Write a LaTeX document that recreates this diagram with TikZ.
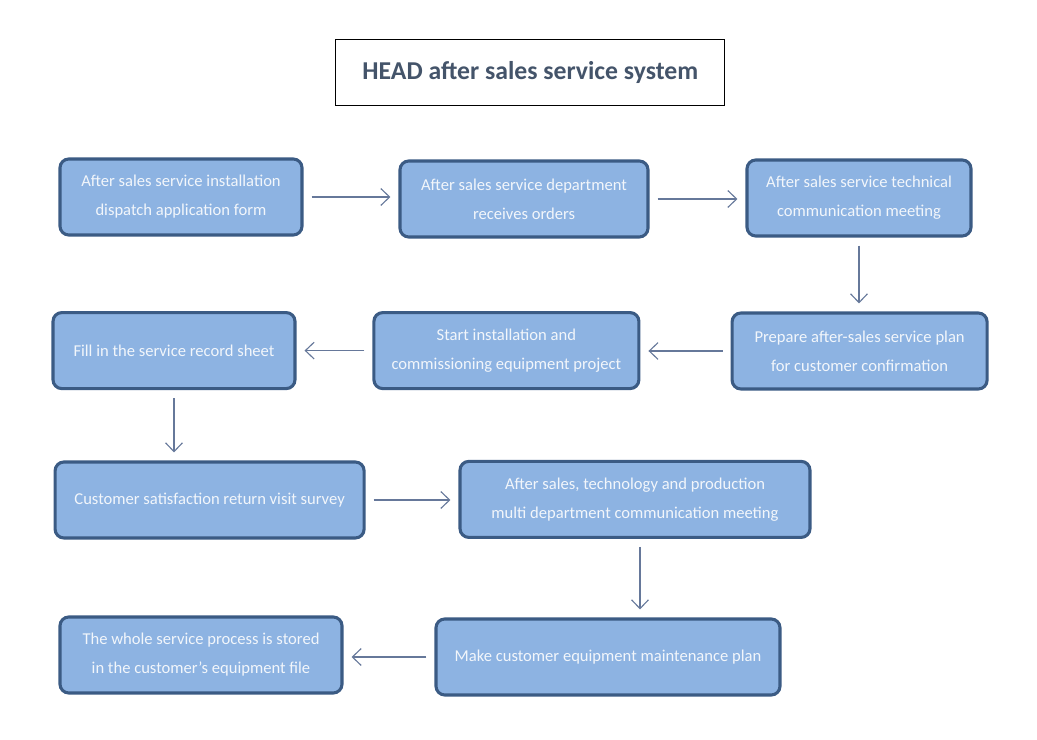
\documentclass[tikz,border=0pt]{standalone}
\usepackage{fontspec}
\setmainfont{Carlito}
\usetikzlibrary{arrows.meta}
\definecolor{boxfill}{HTML}{8DB3E2}
\definecolor{boxline}{HTML}{3B5B84}
\definecolor{boxtext}{HTML}{F2F6FB}
\definecolor{flowline}{HTML}{66789A}
\definecolor{titletext}{HTML}{44546A}
\begin{document}
\begin{tikzpicture}[
            stage/.style={
                    draw=boxline,
                    fill=boxfill,
                    line width=2.2pt,
                    rectangle,
                    rounded corners=0.22cm,
                    align=center,
                    text=boxtext,
                    font=\fontsize{11.8}{20.6}\selectfont,
                    minimum height=1.9cm,
                    inner sep=2pt
                },
            heading/.style={
                    draw=black,
                    line width=0.7pt,
                    rectangle,
                    text=titletext,
                    font=\fontsize{18.3}{21}\selectfont\bfseries,
                    minimum width=9.725cm,
                    minimum height=1.65cm
                },
            flow/.style={
                    -{Straight Barb[length=2.2mm, width=4.2mm]},
                    draw=flowline,
                    line width=0.8pt,
                    shorten >=0.2cm,
                    shorten <=0.2cm
                }
        ]

        \useasboundingbox (0, 0) rectangle (25.925, 18.475);

        \node[heading] (title) at (13.26, 16.65) {HEAD after sales service system};

        \node[stage, minimum width=6.05cm] (dispatch) at (4.525, 13.55) {After sales service installation\\dispatch application form};
        \node[stage, minimum width=6.2cm] (orders) at (13.1, 13.5) {After sales service department\\receives orders};
        \node[stage, minimum width=5.6cm] (techmeet) at (21.475, 13.525) {After sales service technical\\communication meeting};
        \node[stage, minimum width=6.375cm] (plan) at (21.49, 9.7) {Prepare after-sales service plan\\for customer confirmation};
        \node[stage, minimum width=6.625cm] (install) at (12.66, 9.71) {Start installation and\\commissioning equipment project};
        \node[stage, minimum width=6.05cm] (record) at (4.35, 9.71) {Fill in the service record sheet};
        \node[stage, minimum width=7.725cm] (survey) at (5.24, 5.975) {Customer satisfaction return visit survey};
        \node[stage, minimum width=8.75cm] (multimeet) at (15.875, 5.99) {After sales, technology and production\\multi department communication meeting};
        \node[stage, minimum width=8.6cm] (maint) at (15.2, 2.05) {Make customer equipment maintenance plan};
        \node[stage, minimum width=7.05cm] (archive) at (5.025, 2.1) {The whole service process is stored\\in the customer's equipment file};

        \draw[flow] (dispatch.east) -- (dispatch.east -| orders.west);
        \draw[flow] (orders.east) -- (orders.east -| techmeet.west);
        \draw[flow] (techmeet.south) -- (techmeet.south |- plan.north);
        \draw[flow] (plan.west) -- (plan.west -| install.east);
        \draw[flow] (install.west) -- (install.west -| record.east);
        \draw[flow] (record.south) -- (record.south |- survey.north);
        \draw[flow] (survey.east) -- (survey.east -| multimeet.west);
        \draw[flow] ([xshift=0.125cm]multimeet.south) -- ([xshift=0.125cm]multimeet.south |- maint.north);
        \draw[flow] (maint.west) -- (maint.west -| archive.east);

    \end{tikzpicture}
\end{document}
